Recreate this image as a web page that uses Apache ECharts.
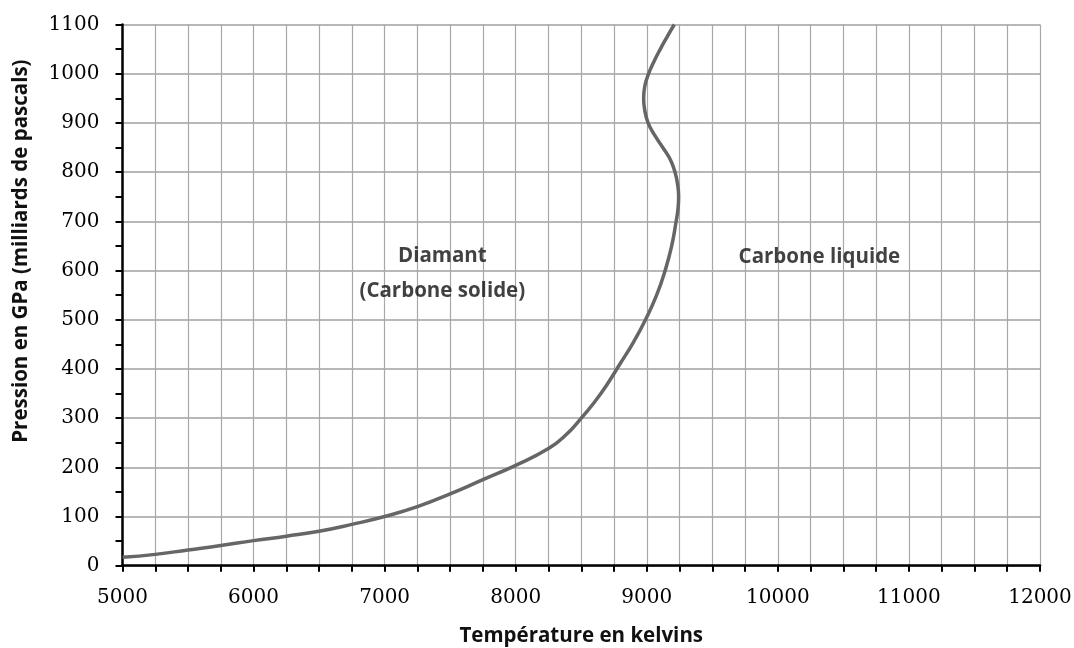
<!DOCTYPE html>
<html>
<head>
<meta charset="utf-8">
<script src="https://cdn.jsdelivr.net/npm/echarts@6/dist/echarts.min.js"></script>
<style>
  html, body { margin: 0; padding: 0; background: #fff; }
  #chart { width: 1074px; height: 648px; }
</style>
</head>
<body>
<div id="chart"></div>
<script>
// courbe de fusion du carbone (T en K, P en GPa)
const temperature = [5000, 5250, 5500, 5750, 6000, 6250, 6500, 6750, 7000, 7250, 7500, 7750, 8000, 8250, 8380, 8500, 8650, 8800, 8900, 8990, 9075, 9140, 9190, 9224, 9238, 9243, 9235, 9215, 9180, 9122, 9060, 9010, 8985, 8976, 8985, 9014, 9055, 9103, 9155, 9210]
const pression = [17, 23, 32, 41, 51, 60, 70, 84, 100, 120, 146, 175, 204, 238, 265, 300, 350, 412, 455, 500, 550, 600, 650, 700, 725, 750, 775, 800, 825, 850, 875, 900, 925, 950, 975, 1000, 1025, 1050, 1075, 1100]

const labelTexts = ['Diamant', '(Carbone solide)', 'Carbone liquide']
const labelX = [7440, 7440, 10317]
const labelY = [630, 559, 628]

const titleFont = '"Open Sans", sans-serif'
const tickFont = '"DejaVu Serif", serif'

const chart = echarts.init(document.getElementById('chart'), null, { renderer: 'canvas' })

chart.setOption({
  animation: false,
  grid: { left: 122.5, right: 34, top: 24.5, bottom: 82.3, outerBoundsMode: 'none', containLabel: false },
  xAxis: {
    type: 'value',
    min: 5000,
    max: 12000,
    interval: 250,
    name: 'Température en kelvins',
    nameLocation: 'middle',
    nameGap: 60,
    nameTextStyle: { fontFamily: titleFont, fontWeight: 'bold', fontSize: 20.5, color: '#111' },
    axisLine: { lineStyle: { color: '#000', width: 2.5 } },
    axisTick: { length: 6, lineStyle: { color: '#000', width: 2 } },
    axisLabel: {
      margin: 22,
      fontFamily: tickFont,
      fontSize: 20,
      color: '#000',
      formatter: (v) => (v % 1000 === 0 ? String(v) : '')
    },
    splitLine: { show: true, lineStyle: { color: '#a8a8a8', width: 1.2 } }
  },
  yAxis: {
    type: 'value',
    min: 0,
    max: 1100,
    interval: 100,
    name: 'Pression en GPa (milliards de pascals)',
    nameLocation: 'middle',
    nameGap: 91,
    nameTextStyle: {
      fontFamily: titleFont,
      fontWeight: 'bold',
      fontSize: 20.5,
      color: '#111',
      padding: [0, 0, 0, 88]
    },
    axisLine: { show: true, lineStyle: { color: '#000', width: 2.5 } },
    axisTick: { show: true, length: 7, lineStyle: { color: '#000', width: 2 } },
    minorTick: { show: true, splitNumber: 2, length: 7, lineStyle: { color: '#000', width: 2 } },
    axisLabel: { margin: 23, fontFamily: tickFont, fontSize: 20, color: '#000', formatter: (v) => String(v) },
    splitLine: { show: true, lineStyle: { color: '#a0a0a0', width: 1.5 } }
  },
  series: [
    {
      type: 'line',
      data: temperature.map((t, i) => [t, pression[i]]),
      smooth: 0.5,
      symbol: 'none',
      lineStyle: { color: '#666', width: 3.5 },
      z: 3
    },
    {
      type: 'scatter',
      data: labelTexts.map((s, i) => ({ value: [labelX[i], labelY[i]], name: s })),
      symbolSize: 0,
      silent: true,
      label: {
        show: true,
        position: 'inside',
        formatter: (p) => p.name,
        fontFamily: titleFont,
        fontWeight: 'bold',
        fontSize: 20.5,
        color: '#111'
      }
    }
  ]
})
</script>
</body>
</html>
